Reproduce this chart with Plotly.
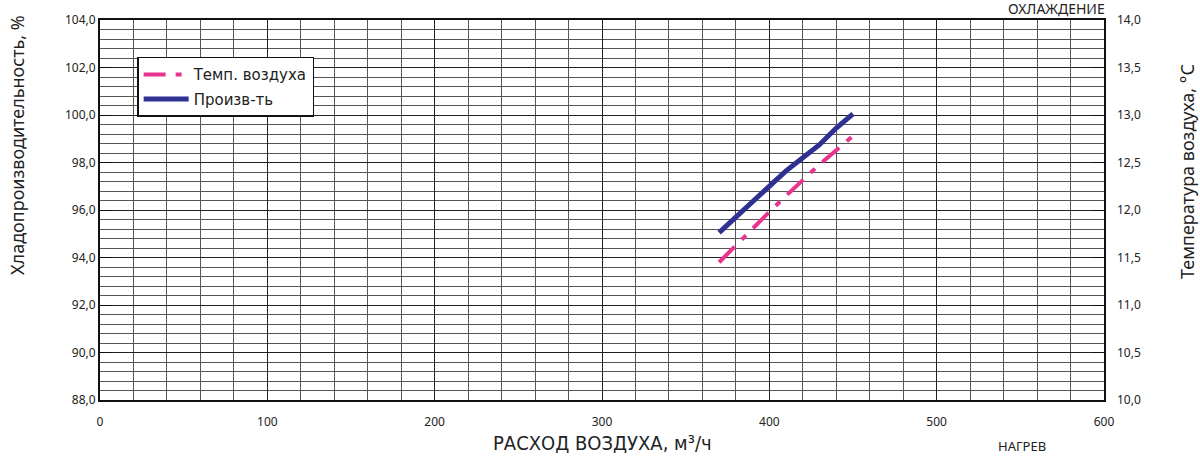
import plotly.graph_objects as go

# Data
airflow = [370, 380, 390, 400, 410, 420, 430, 440, 450]
capacity = [95.05, 95.7, 96.4, 97.05, 97.65, 98.2, 98.75, 99.45, 100.05]
air_temp = [11.45, 11.63, 11.81, 11.98, 12.15, 12.32, 12.48, 12.63, 12.78]

x_ticks = [0, 100, 200, 300, 400, 500, 600]
y_left_ticks = [88, 90, 92, 94, 96, 98, 100, 102, 104]
y_right_ticks = [10.0, 10.5, 11.0, 11.5, 12.0, 12.5, 13.0, 13.5, 14.0]

narrow = "Liberation Sans Narrow, DejaVu Sans Condensed, sans-serif"
tick_font = dict(family="Noto Sans, DejaVu Sans, sans-serif", size=12, color="#222")
title_font = dict(family="Noto Sans, Open Sans, sans-serif", size=18, color="#222")

fig = go.Figure()

fig.add_trace(go.Scatter(
    x=airflow, y=air_temp, yaxis="y2", mode="lines",
    name="Темп. воздуха", legendgroup="a",
    line=dict(color="#E8348E", width=4, dash="22px,10px,6px,10px"),
))
fig.add_trace(go.Scatter(
    x=airflow, y=capacity, mode="lines",
    name="Произв-ть", legendgroup="b",
    line=dict(color="#2E3192", width=5),
))

fig.update_layout(
    width=1200, height=461,
    margin=dict(l=100, r=96, t=20, b=61, autoexpand=False),
    paper_bgcolor="white", plot_bgcolor="white",
    separators=", ",
    showlegend=True,
    legend=dict(
        x=0.037, y=0.903, xanchor="left", yanchor="top",
        bgcolor="white", bordercolor="#111", borderwidth=1.5,
        font=dict(family="DejaVu Sans, sans-serif", size=15, color="#222"),
        tracegroupgap=2, itemwidth=45,
    ),
    xaxis=dict(
        range=[0, 600], tickvals=x_ticks, ticktext=[str(v) for v in x_ticks],
        showgrid=True, gridcolor="#222", gridwidth=1,
        minor=dict(dtick=20, showgrid=True, gridcolor="#555", gridwidth=1),
        showline=True, linecolor="#111", linewidth=2, mirror=True,
        ticks="", ticklabelstandoff=10, automargin=False,
        tickfont=tick_font, zeroline=False,
    ),
    yaxis=dict(
        range=[88, 104], tickvals=y_left_ticks, tickformat=".1f",
        showgrid=True, gridcolor="#222", gridwidth=1,
        minor=dict(dtick=0.4, tick0=88, showgrid=True, gridcolor="#555", gridwidth=1),
        showline=True, linecolor="#111", linewidth=2, mirror=True,
        ticks="inside", ticklen=12, tickcolor="#111", tickwidth=1,
        automargin=False,
        tickfont=tick_font, zeroline=False,
    ),
    yaxis2=dict(
        range=[10, 14], tickvals=y_right_ticks, tickformat=".1f",
        overlaying="y", side="right", showgrid=False,
        ticks="inside", ticklen=12, tickcolor="#111", tickwidth=1,
        ticklabelstandoff=12, automargin=False,
        tickfont=tick_font, zeroline=False,
    ),
    annotations=[
        dict(text="Хладопроизводительность, %", xref="paper", yref="paper",
             x=-0.0827, y=0.671, textangle=-90, showarrow=False,
             xanchor="center", yanchor="middle", font=title_font),
        dict(text="Температура воздуха, °С", xref="paper", yref="paper",
             x=1.0827, y=0.6, textangle=-90, showarrow=False,
             xanchor="center", yanchor="middle", font=title_font),
        dict(text="РАСХОД ВОЗДУХА, м³/ч", xref="paper", yref="paper",
             x=0.5, y=-0.113, showarrow=False, xanchor="center", yanchor="middle",
             font=dict(family=narrow, size=20, color="#222")),
        dict(text="ОХЛАЖДЕНИЕ", xref="paper", yref="paper",
             x=0.953, y=1.0, showarrow=False, xanchor="center", yanchor="bottom",
             font=dict(family="Noto Sans, sans-serif", size=14, color="#222")),
        dict(text="НАГРЕВ", xref="paper", yref="paper",
             x=0.918, y=-0.122, showarrow=False, xanchor="center", yanchor="middle",
             font=dict(family="Noto Sans, sans-serif", size=13, color="#222")),
    ],
)

fig.write_html(
    "out.html",
    config={"displayModeBar": False},
    post_script="document.body.style.margin='0';document.body.style.overflow='hidden';",
)
